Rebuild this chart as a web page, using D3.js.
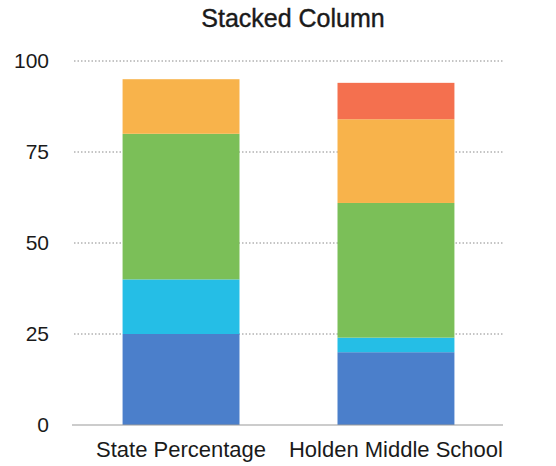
<!DOCTYPE html>
<html><head><meta charset="utf-8">
<script src="https://cdn.jsdelivr.net/npm/d3@7"></script>
<style>body{margin:0;background:#fff;} text{font-family:"Liberation Sans",Arial,sans-serif;}</style>
</head><body>
<svg id="c" width="556" height="466"></svg>
<script>
const categories = ["State Percentage", "Holden Middle School"];
const seriesNames = ["Level 1", "Level 2", "Level 3", "Level 4", "Level 5"];
const level1 = [25, 20];
const level2 = [15, 4];
const level3 = [40, 37];
const level4 = [15, 23];
const level5 = [0, 10];
const yTicks = [0, 25, 50, 75, 100];
const colors = ["#4b7fcb", "#25bee6", "#7bbf58", "#f8b34b", "#f4704f"];

const seriesValues = [level1, level2, level3, level4, level5];
const rows = categories.map((c, i) => {
  const r = {cat: c};
  seriesNames.forEach((s, j) => r[s] = seriesValues[j][i]);
  return r;
});
const stacked = d3.stack().keys(seriesNames)(rows);

const svg = d3.select("#c");
const x = d3.scaleBand().domain(categories).range([74, 503]).paddingInner(0.456).paddingOuter(0.226);
const y = d3.scaleLinear().domain([0, 100]).range([425, 61]);

// gridlines
svg.append("g").selectAll("line").data(yTicks.filter(t => t > 0)).join("line")
  .attr("x1", 74).attr("x2", 503)
  .attr("y1", d => y(d)).attr("y2", d => y(d))
  .attr("stroke", "#8a8a8a").attr("stroke-width", 1).attr("stroke-dasharray", "1.5,2");

// bars
svg.append("g").selectAll("g").data(stacked).join("g")
  .attr("fill", (d, i) => colors[i])
  .selectAll("rect").data(d => d).join("rect")
  .attr("x", d => x(d.data.cat))
  .attr("width", x.bandwidth())
  .attr("y", d => y(d[1]))
  .attr("height", d => y(d[0]) - y(d[1]));

// baseline
svg.append("line").attr("x1", 72).attr("x2", 503).attr("y1", y(0)).attr("y2", y(0))
  .attr("stroke", "#9a9a9a").attr("stroke-width", 1.2);

// y axis labels
const yAxis = d3.axisLeft(y).tickValues(yTicks).tickSize(0).tickPadding(0);
const ya = svg.append("g").attr("transform", "translate(49,0)").call(yAxis);
ya.select(".domain").remove();
ya.selectAll("text").attr("font-size", 21).attr("fill", "#1a1a1a")
  .style("font-family", "Liberation Sans, Arial, sans-serif");

// x axis labels
const xAxis = d3.axisBottom(x).tickSize(0).tickPadding(0);
const xa = svg.append("g").attr("transform", "translate(0,441)").call(xAxis);
xa.select(".domain").remove();
xa.selectAll("text").attr("font-size", 22).attr("fill", "#1a1a1a").attr("dy", "0.71em")
  .style("font-family", "Liberation Sans, Arial, sans-serif");

// title
svg.append("text").attr("x", 293).attr("y", 27).attr("text-anchor", "middle")
  .attr("font-size", 25).attr("fill", "#1a1a1a").attr("stroke", "#1a1a1a").attr("stroke-width", 0.4)
  .text("Stacked Column");
</script>
</body></html>
